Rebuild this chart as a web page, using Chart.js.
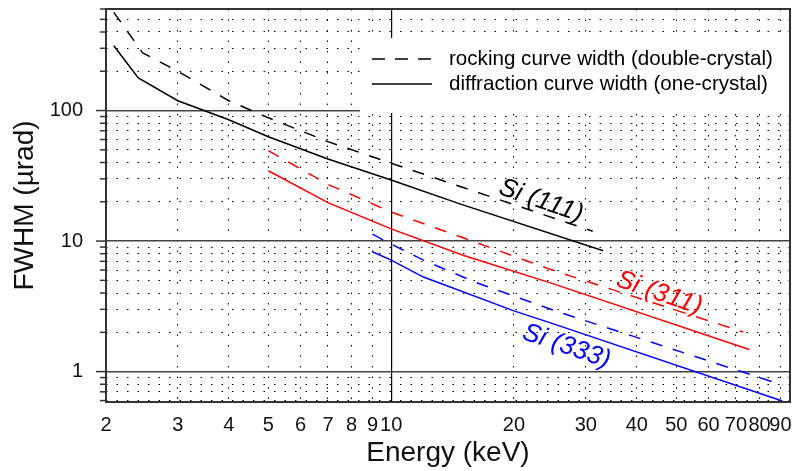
<!DOCTYPE html>
<html>
<head>
<meta charset="utf-8">
<script src="https://cdn.jsdelivr.net/npm/chart.js@4/dist/chart.umd.min.js"></script>
<style>
  html, body { margin: 0; padding: 0; background: #fff; }
  canvas { display: block; }
</style>
</head>
<body>
<canvas id="fwhmChart" width="792" height="471"></canvas>
<script>
// ---- data (energy in keV, FWHM in µrad) ----
const si111RockE   = [2.09, 2.26, 2.46, 3, 4, 5, 7, 10, 31.2];
const si111RockV   = [565, 402, 277, 200, 119, 88, 57.8, 39.5, 11.9];
const si111DiffE   = [2.09, 2.4, 3, 4, 5, 7, 10, 14.8, 33.1];
const si111DiffV   = [314, 178, 119, 85, 63, 42.5, 29.4, 19.2, 8.43];

const si311RockE   = [5, 7, 10, 15, 25, 73];
const si311RockV   = [49.3, 27.2, 16.7, 10.6, 5.95, 2.01];
const si311DiffE   = [5, 7, 10, 15, 25, 75.5];
const si311DiffV   = [34.6, 19.7, 12.4, 7.8, 4.7, 1.476];

const si333RockE   = [9, 10, 12, 16, 25, 91];
const si333RockV   = [11.3, 9.48, 7.15, 4.87, 2.95, 0.79];
const si333DiffE   = [9, 10, 12, 20, 25, 91];
const si333DiffV   = [8.28, 7.15, 5.3, 2.92, 2.32, 0.595];

const energyTicks = [2, 3, 4, 5, 6, 7, 8, 9, 10, 20, 30, 40, 50, 60, 70, 80, 90];
const fwhmTicks = [0.6, 0.7, 0.8, 0.9, 1, 2, 3, 4, 5, 6, 7, 8, 9,
                   10, 20, 30, 40, 50, 60, 70, 80, 90,
                   100, 200, 300, 400, 500, 600];
const fwhmLabels = [1, 10, 100];

const legendLabels = ['rocking curve width (double-crystal)', 'diffraction curve width (one-crystal)'];

const crystalNames = ['Si (111)', 'Si (311)', 'Si (333)'];
const crystalColors = ['#000000', '#ff0000', '#0000ff'];
const nameAtE = [23.3, 45.4, 26.9];
const nameAtV = [20.3, 3.99, 1.56];

const FONT = "'Liberation Sans', Arial, sans-serif";
const DASH = [12, 11];

function pts(xs, ys) {
  return xs.map((x, i) => ({ x: x, y: ys[i] }));
}

function line(xs, ys, color, dashed) {
  return {
    data: pts(xs, ys),
    borderColor: color,
    borderWidth: 1.5,
    borderDash: dashed ? DASH : [],
    pointRadius: 0,
    fill: false,
    tension: 0
  };
}

// white legend box inside the plot, drawn over the grid
const legendBox = {
  id: 'legendBox',
  beforeDatasetsDraw(chart) {
    const { ctx, chartArea } = chart;
    const x0 = chartArea.right - 430;
    const y0 = chartArea.top + 29;
    ctx.save();
    ctx.fillStyle = '#fff';
    ctx.fillRect(x0, y0, 430, 75);
    ctx.strokeStyle = '#000';
    ctx.lineWidth = 1.3;
    const rows = [y0 + 21, y0 + 46];
    rows.forEach((y, i) => {
      ctx.setLineDash(i === 0 ? [13, 10] : []);
      ctx.beginPath();
      ctx.moveTo(x0 + 12, y);
      ctx.lineTo(x0 + 72, y);
      ctx.stroke();
    });
    ctx.setLineDash([]);
    ctx.fillStyle = '#000';
    ctx.font = '20.6px ' + FONT;
    ctx.textBaseline = 'middle';
    ctx.textAlign = 'left';
    rows.forEach((y, i) => ctx.fillText(legendLabels[i], x0 + 89, y));
    ctx.restore();
  }
};

// crystal names, frame and y tick marks
const extras = {
  id: 'extras',
  afterDraw(chart) {
    const { ctx, chartArea } = chart;
    const xs = chart.scales.x, ys = chart.scales.y;
    ctx.save();
    ctx.font = 'italic 26px ' + FONT;
    ctx.textAlign = 'center';
    ctx.textBaseline = 'middle';
    crystalNames.forEach((t, i) => {
      ctx.save();
      ctx.translate(xs.getPixelForValue(nameAtE[i]), ys.getPixelForValue(nameAtV[i]));
      ctx.rotate(19 * Math.PI / 180);
      ctx.fillStyle = crystalColors[i];
      ctx.fillText(t, 0, 0);
      ctx.restore();
    });

    ctx.strokeStyle = '#333';
    ctx.lineWidth = 1.5;
    fwhmTicks.forEach(v => {
      const y = ys.getPixelForValue(v);
      const len = fwhmLabels.includes(v) ? 10 : 6;
      ctx.beginPath();
      ctx.moveTo(chartArea.left - len, y);
      ctx.lineTo(chartArea.left, y);
      ctx.stroke();
    });

    ctx.lineWidth = 2;
    ctx.strokeRect(chartArea.left, chartArea.top,
      chartArea.right - chartArea.left, chartArea.bottom - chartArea.top);
    ctx.restore();
  }
};

new Chart(document.getElementById('fwhmChart').getContext('2d'), {
  type: 'line',
  data: {
    datasets: [
      line(si111RockE, si111RockV, crystalColors[0], true),
      line(si111DiffE, si111DiffV, crystalColors[0], false),
      line(si311RockE, si311RockV, crystalColors[1], true),
      line(si311DiffE, si311DiffV, crystalColors[1], false),
      line(si333RockE, si333RockV, crystalColors[2], true),
      line(si333DiffE, si333DiffV, crystalColors[2], false)
    ]
  },
  options: {
    responsive: false,
    animation: false,
    events: [],
    layout: { padding: { top: 9, right: 2, left: 0, bottom: 0 } },
    plugins: {
      legend: { display: false },
      tooltip: { enabled: false }
    },
    scales: {
      x: {
        type: 'logarithmic',
        min: 2,
        max: 95,
        bounds: 'data',
        afterBuildTicks: s => { s.ticks = energyTicks.map(v => ({ value: v })); },
        afterFit: s => { s.height = 69; s.paddingLeft = 0; s.paddingRight = 0; },
        ticks: {
          autoSkip: false,
          maxRotation: 0,
          minRotation: 0,
          padding: 11,
          color: '#111',
          font: { family: FONT, size: 20 },
          callback: v => String(v)
        },
        grid: {
          drawTicks: false,
          color: '#000',
          lineWidth: c => (c.tick && c.tick.value === 10) ? 1.2 : 1
        },
        border: {
          display: false,
          dash: c => (c.tick && c.tick.value === 10) ? [] : [1.5, 9]
        },
        title: {
          display: true,
          text: 'Energy (keV)',
          color: '#111',
          font: { family: FONT, size: 28 },
          padding: { top: 0, bottom: 1 }
        }
      },
      y: {
        type: 'logarithmic',
        min: 0.585,
        max: 600,
        bounds: 'data',
        afterBuildTicks: s => { s.ticks = fwhmTicks.map(v => ({ value: v })); },
        afterFit: s => { s.width = 106; s.paddingTop = 0; s.paddingBottom = 0; },
        ticks: {
          autoSkip: false,
          padding: 23,
          color: '#111',
          font: { family: FONT, size: 20 },
          callback: v => fwhmLabels.includes(v) ? String(v) : ''
        },
        grid: {
          drawTicks: false,
          color: c => (c.tick && fwhmLabels.includes(c.tick.value)) ? '#444' : '#000',
          lineWidth: c => (c.tick && fwhmLabels.includes(c.tick.value)) ? 1.4 : 1
        },
        border: {
          display: false,
          dash: c => (c.tick && fwhmLabels.includes(c.tick.value)) ? [] : [1.5, 9]
        },
        title: {
          display: true,
          text: 'FWHM (µrad)',
          color: '#111',
          font: { family: FONT, size: 28 },
          padding: { top: 8, bottom: 0 }
        }
      }
    }
  },
  plugins: [legendBox, extras]
});
</script>
</body>
</html>
